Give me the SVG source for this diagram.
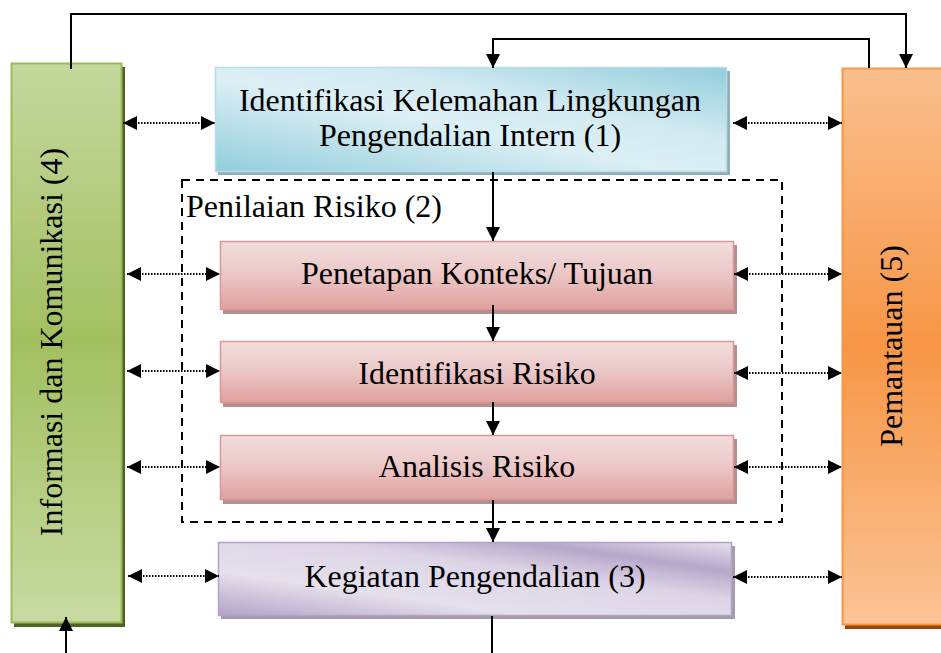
<svg xmlns="http://www.w3.org/2000/svg" width="941" height="653" viewBox="0 0 941 653">
<style>
.t{font-family:"Liberation Serif","Times New Roman",serif;fill:#000;}
.c{font-size:32px;text-anchor:middle;}
.solid{stroke:#000;stroke-width:2;fill:none;}
.dot{stroke:#000;stroke-width:2;stroke-dasharray:1.5 1.5;fill:none;}
.dash{stroke:#000;stroke-width:2;stroke-dasharray:8 6;fill:none;}
</style>
<defs>
<marker id="ah" viewBox="0 0 14 14" refX="14" refY="7" markerWidth="14" markerHeight="14" markerUnits="userSpaceOnUse" orient="auto-start-reverse">
<path d="M0,0 L14,7 L0,14 Z" fill="#000"/>
</marker>
<linearGradient id="gGreen" x1="0" y1="0" x2="0" y2="1">
<stop offset="0" stop-color="#c4d79d"/>
<stop offset="0.5" stop-color="#a2c060"/>
<stop offset="1" stop-color="#c8daa2"/>
</linearGradient>
<linearGradient id="gOrange" x1="0" y1="0" x2="0" y2="1">
<stop offset="0" stop-color="#fabf8e"/>
<stop offset="0.5" stop-color="#f79646"/>
<stop offset="1" stop-color="#fbc395"/>
</linearGradient>
<linearGradient id="gBlue" x1="0" y1="1" x2="1" y2="0">
<stop offset="0" stop-color="#92cddc"/>
<stop offset="0.45" stop-color="#dceff5"/>
<stop offset="0.65" stop-color="#d2eaf2"/>
<stop offset="1" stop-color="#92cddc"/>
</linearGradient>
<linearGradient id="gPink" x1="0" y1="0" x2="0" y2="1">
<stop offset="0" stop-color="#f2dcdc"/>
<stop offset="0.45" stop-color="#ecc9c9"/>
<stop offset="1" stop-color="#e0a09f"/>
</linearGradient>
<linearGradient id="gPurple" x1="0" y1="1" x2="1" y2="0">
<stop offset="0" stop-color="#b3a2c7"/>
<stop offset="0.3" stop-color="#e5e0ec"/>
<stop offset="0.6" stop-color="#ddd5e6"/>
<stop offset="0.8" stop-color="#b7a7ca"/>
<stop offset="1" stop-color="#e5e0ec"/>
</linearGradient>
</defs>

<g id="node-informasi">
<rect x="14" y="67" width="111" height="560" fill="#4f6228"/>
<rect x="11.5" y="63.5" width="110" height="559" fill="url(#gGreen)" stroke="#9bbb59" stroke-width="2"/>
<text class="t" font-size="32" text-anchor="middle" transform="translate(62,342) rotate(-90)">Informasi dan Komunikasi (4)</text>
</g>

<g id="node-pemantauan">
<rect x="845" y="72" width="100" height="557" fill="#984807"/>
<rect x="842.5" y="68.5" width="100" height="556" fill="url(#gOrange)" stroke="#f79646" stroke-width="2"/>
<text class="t" font-size="32" text-anchor="middle" transform="translate(902,346) rotate(-90)">Pemantauan (5)</text>
</g>

<g id="node-identifikasi-kelemahan">
<rect x="218" y="71" width="512" height="104" fill="#8fb0ba"/>
<rect x="215.5" y="67.5" width="511" height="104" fill="url(#gBlue)" stroke="#b7dde8" stroke-width="1.5"/>
<text class="t c" x="470" y="111">Identifikasi Kelemahan Lingkungan</text>
<text class="t c" x="470" y="146">Pengendalian Intern (1)</text>
</g>

<g id="group-penilaian">
<rect x="182" y="180" width="600" height="342" class="dash"/>
<text class="t" x="186" y="217" font-size="32">Penilaian Risiko (2)</text>
</g>

<g id="node-penetapan">
<rect x="223" y="245" width="514" height="69" fill="#b58e8e"/>
<rect x="220.5" y="241.5" width="513" height="68" fill="url(#gPink)" stroke="#d99694" stroke-width="1.5"/>
<text class="t c" x="477" y="284">Penetapan Konteks/ Tujuan</text>
</g>

<g id="node-identifikasi-risiko">
<rect x="223" y="345" width="514" height="62" fill="#b58e8e"/>
<rect x="220.5" y="341.5" width="513" height="61" fill="url(#gPink)" stroke="#d99694" stroke-width="1.5"/>
<text class="t c" x="477" y="384">Identifikasi Risiko</text>
</g>

<g id="node-analisis">
<rect x="223" y="439" width="514" height="65" fill="#b58e8e"/>
<rect x="220.5" y="435.5" width="513" height="64" fill="url(#gPink)" stroke="#d99694" stroke-width="1.5"/>
<text class="t c" x="477" y="477">Analisis Risiko</text>
</g>

<g id="node-kegiatan">
<rect x="221" y="546" width="514" height="73" fill="#a49bab"/>
<rect x="218.5" y="542.5" width="513" height="73" fill="url(#gPurple)" stroke="#b3a2c7" stroke-width="1.5"/>
<text class="t c" x="475" y="587">Kegiatan Pengendalian (3)</text>
</g>

<g id="connectors">
<polyline class="solid" points="71,69 71,14 906,14 906,68" marker-end="url(#ah)"/>
<polyline class="solid" points="869,68 869,39 493,39 493,68" marker-end="url(#ah)"/>
<line class="solid" x1="493" y1="172" x2="493" y2="241" marker-end="url(#ah)"/>
<line class="solid" x1="493" y1="305" x2="493" y2="341" marker-end="url(#ah)"/>
<line class="solid" x1="493" y1="402" x2="493" y2="435" marker-end="url(#ah)"/>
<line class="solid" x1="493" y1="500" x2="493" y2="542" marker-end="url(#ah)"/>
<line class="solid" x1="492" y1="616" x2="492" y2="653"/>
<line class="solid" x1="66" y1="653" x2="66" y2="617" marker-end="url(#ah)"/>

<line class="dot" x1="123" y1="123" x2="215" y2="123" marker-start="url(#ah)" marker-end="url(#ah)"/>
<line class="dot" x1="733" y1="123" x2="842" y2="123" marker-start="url(#ah)" marker-end="url(#ah)"/>
<line class="dot" x1="127" y1="274" x2="220" y2="274" marker-start="url(#ah)" marker-end="url(#ah)"/>
<line class="dot" x1="734" y1="274" x2="842" y2="274" marker-start="url(#ah)" marker-end="url(#ah)"/>
<line class="dot" x1="127" y1="371" x2="220" y2="371" marker-start="url(#ah)" marker-end="url(#ah)"/>
<line class="dot" x1="734" y1="373" x2="842" y2="373" marker-start="url(#ah)" marker-end="url(#ah)"/>
<line class="dot" x1="127" y1="467" x2="220" y2="467" marker-start="url(#ah)" marker-end="url(#ah)"/>
<line class="dot" x1="734" y1="467" x2="842" y2="467" marker-start="url(#ah)" marker-end="url(#ah)"/>
<line class="dot" x1="128" y1="576" x2="219" y2="576" marker-start="url(#ah)" marker-end="url(#ah)"/>
<line class="dot" x1="733" y1="577" x2="842" y2="577" marker-start="url(#ah)" marker-end="url(#ah)"/>
</g>
</svg>
